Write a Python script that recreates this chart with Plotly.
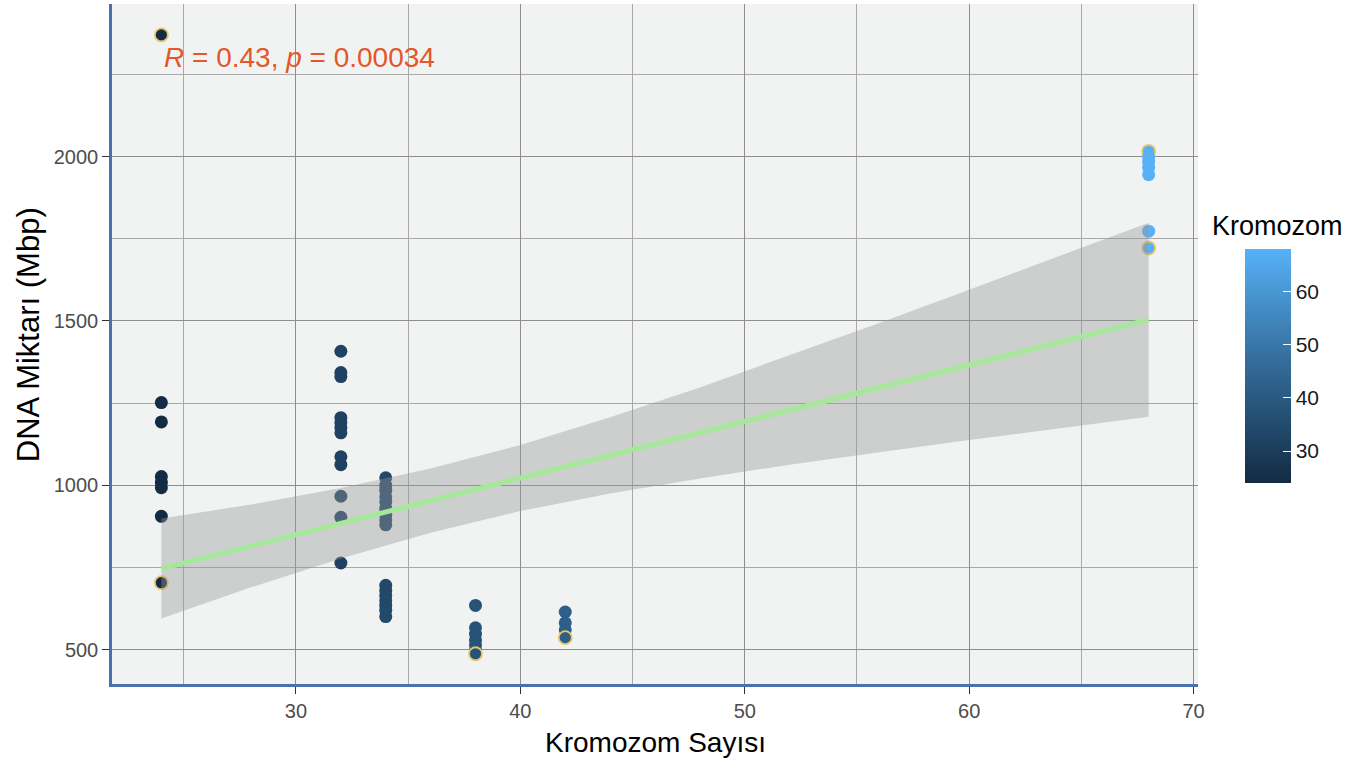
import plotly.graph_objects as go

# Chromosome number vs. DNA amount (Mbp); ring = outlined point
chrom = [24, 24, 24, 24, 24, 24, 24, 24,
         32, 32, 32, 32, 32, 32, 32, 32, 32, 32, 32, 32,
         34, 34, 34, 34, 34, 34, 34, 34, 34, 34, 34, 34, 34, 34, 34, 34,
         38, 38, 38, 38, 38, 38, 38,
         42, 42, 42, 42,
         68, 68, 68, 68, 68, 68, 68]
dna = [2370, 1252, 1193, 1027, 1009, 993, 906, 704,
       1408, 1343, 1331, 1206, 1191, 1176, 1160, 1087, 1063, 967, 903, 764,
       1023, 1000, 985, 965, 950, 930, 910, 895, 880, 696, 680, 665, 650, 635, 620, 601,
       635, 567, 548, 530, 515, 500, 488,
       615, 582, 561, 537,
       2016, 2000, 1985, 1967, 1945, 1773, 1722]
ring = [1, 0, 0, 0, 0, 0, 0, 1,
        0, 0, 0, 0, 0, 0, 0, 0, 0, 0, 0, 0,
        0, 0, 0, 0, 0, 0, 0, 0, 0, 0, 0, 0, 0, 0, 0, 0,
        0, 0, 0, 0, 0, 0, 1,
        0, 0, 0, 1,
        1, 0, 0, 0, 0, 0, 1]

# Linear fit with 95% confidence band
fit_x = [24, 28, 32, 36, 40, 44, 48, 52, 56, 60, 64, 68]
fit_y = [747, 816, 885, 953, 1022, 1091, 1160, 1229, 1297, 1366, 1435, 1504]
ci_lo = [595, 690, 778, 856, 922, 975, 1021, 1063, 1101, 1138, 1174, 1209]
ci_hi = [899, 942, 992, 1051, 1123, 1207, 1298, 1395, 1494, 1595, 1696, 1799]

cbar_ticks = [30, 40, 50, 60]
stat_label = "<i>R</i> = 0.43, <i>p</i> = 0.00034"

FONT = "Liberation Sans, Arial, sans-serif"
scale = [[0.0, "#132B43"], [0.25, "#234B6E"], [0.5, "#336A98"],
         [0.75, "#448DC6"], [1.0, "#56B1F7"]]

fig = go.Figure()

fig.add_trace(go.Scatter(
    x=chrom, y=dna, mode="markers", showlegend=False,
    marker=dict(
        size=13, color=chrom, colorscale=scale, cmin=24, cmax=68,
        line=dict(color="#E8C66A", width=[1.8 if r else 0 for r in ring]),
        colorbar=dict(
            x=1.0433, xanchor="left", xpad=0,
            y=0.4676, yanchor="middle", ypad=0,
            len=0.344, lenmode="fraction", thickness=46,
            outlinewidth=0, tickvals=cbar_ticks,
            ticks="inside", ticklen=8, tickcolor="white", tickwidth=1,
            tickfont=dict(family=FONT, size=21, color="#1A1A1A"),
        ),
    ),
))

# confidence band drawn over the points
fig.add_trace(go.Scatter(
    x=fit_x + fit_x[::-1], y=ci_hi + ci_lo[::-1],
    fill="toself", fillcolor="rgba(153,153,153,0.4)",
    line=dict(width=0), mode="lines", showlegend=False, hoverinfo="skip",
))
fig.add_trace(go.Scatter(
    x=fit_x, y=fit_y, mode="lines", showlegend=False,
    line=dict(color="#A5E89A", width=5),
))

axis_common = dict(
    showline=True, linecolor="#4A70B0", linewidth=2.5, mirror=False,
    showgrid=True, gridcolor="#8E8E8E", gridwidth=1.1,
    ticks="outside", ticklen=7, tickcolor="#333333", tickwidth=1,
    tickfont=dict(family=FONT, size=20, color="#4D4D4D"),
    zeroline=False,
)

fig.update_layout(
    width=1363, height=767,
    margin=dict(l=112, r=165, t=4, b=83),
    paper_bgcolor="white", plot_bgcolor="#F0F3F2",
    font=dict(family=FONT),
    xaxis=dict(range=[21.8, 70.2], tick0=0, dtick=10,
               minor=dict(dtick=5, showgrid=True, gridcolor="#A9A9A9", gridwidth=0.8),
               **axis_common),
    yaxis=dict(range=[396, 2464], tick0=0, dtick=500,
               minor=dict(dtick=250, showgrid=True, gridcolor="#A9A9A9", gridwidth=0.8),
               **axis_common),
    annotations=[
        dict(text=stat_label, x=0.046, y=0.9206, xref="paper", yref="paper",
             xanchor="left", yanchor="middle", showarrow=False,
             font=dict(family=FONT, size=28, color="#E4572A")),
        dict(text="Kromozom Sayısı", x=0.5, y=-0.0853, xref="paper", yref="paper",
             xanchor="center", yanchor="middle", showarrow=False,
             font=dict(family=FONT, size=28, color="black")),
        dict(text="DNA Miktarı (Mbp)", x=-0.0773, y=0.513, xref="paper", yref="paper",
             xanchor="center", yanchor="middle", textangle=-90, showarrow=False,
             font=dict(family=FONT, size=31, color="black")),
        dict(text="Kromozom", x=1.011, y=0.6735, xref="paper", yref="paper",
             xanchor="left", yanchor="middle", showarrow=False,
             font=dict(family=FONT, size=27, color="black")),
    ],
)

fig.write_html("out.html")
